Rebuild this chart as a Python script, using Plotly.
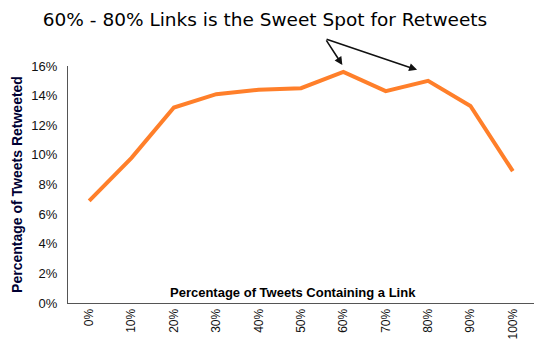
import plotly.graph_objects as go

categories = ["0%", "10%", "20%", "30%", "40%", "50%", "60%", "70%", "80%", "90%", "100%"]
retweeted = [6.9, 9.8, 13.2, 14.1, 14.4, 14.5, 15.6, 14.3, 15.0, 13.3, 8.9]
y_ticks = [0, 2, 4, 6, 8, 10, 12, 14, 16]
y_tick_labels = [f"{v}%" for v in y_ticks]

title_text = "60% - 80% Links is the Sweet Spot for Retweets"
x_title = "Percentage of Tweets Containing a Link"
y_title = "Percentage of Tweets Retweeted"

fig = go.Figure()
fig.add_trace(go.Scatter(
    x=list(range(len(categories))), y=retweeted, mode="lines",
    line=dict(color="#FF7F2A", width=4), hoverinfo="skip", showlegend=False,
))

fig.update_layout(
    width=543, height=351,
    margin=dict(l=68, r=9, t=66, b=48, autoexpand=False),
    paper_bgcolor="white", plot_bgcolor="white",
    font=dict(family="Liberation Sans, Arial, sans-serif", color="#111111"),
    title=dict(text=title_text, x=265/543, xanchor="center", y=1 - 20/351, yanchor="middle",
               font=dict(size=18.5, color="#000000", family="DejaVu Sans, sans-serif")),
    xaxis=dict(
        tickmode="array", tickvals=list(range(len(categories))), ticktext=categories,
        range=[-0.5, 10.5], tickangle=-90, showgrid=False, zeroline=False,
        showline=True, linecolor="#555555", linewidth=1, ticks="",
        tickfont=dict(size=12, color="#111111", family="Liberation Sans, Arial, sans-serif"),
        automargin=False,
    ),
    yaxis=dict(
        range=[0, 16], tickvals=y_ticks, ticktext=y_tick_labels, showgrid=False,
        zeroline=False, showline=True, linecolor="#555555", linewidth=1, ticks="",
        tickfont=dict(size=13, color="#111111"), ticklabelstandoff=7,
        title=dict(text="<b>" + y_title + "</b>", font=dict(size=14, color="#000033"), standoff=5),
        automargin=False,
    ),
)

fig.add_annotation(
    text="<b>" + x_title + "</b>", xref="paper", yref="paper",
    x=(293 - 68) / 466, y=(303 - 292) / 237, xanchor="center", yanchor="middle",
    showarrow=False, font=dict(size=13, color="#000000"),
)

# arrows from the title to the 60% and 80% points
fig.add_annotation(x=6, y=retweeted[6], xref="x", yref="y", text="", showarrow=True,
                   ax=-17, ay=-26, xshift=-1, yshift=7, arrowhead=2, arrowsize=1,
                   arrowwidth=1.6, arrowcolor="#111111")
fig.add_annotation(x=8, y=retweeted[8], xref="x", yref="y", text="", showarrow=True,
                   ax=-92, ay=-31, xshift=-11, yshift=11, arrowhead=2, arrowsize=1,
                   arrowwidth=1.6, arrowcolor="#111111")

fig.write_html("out.html")
